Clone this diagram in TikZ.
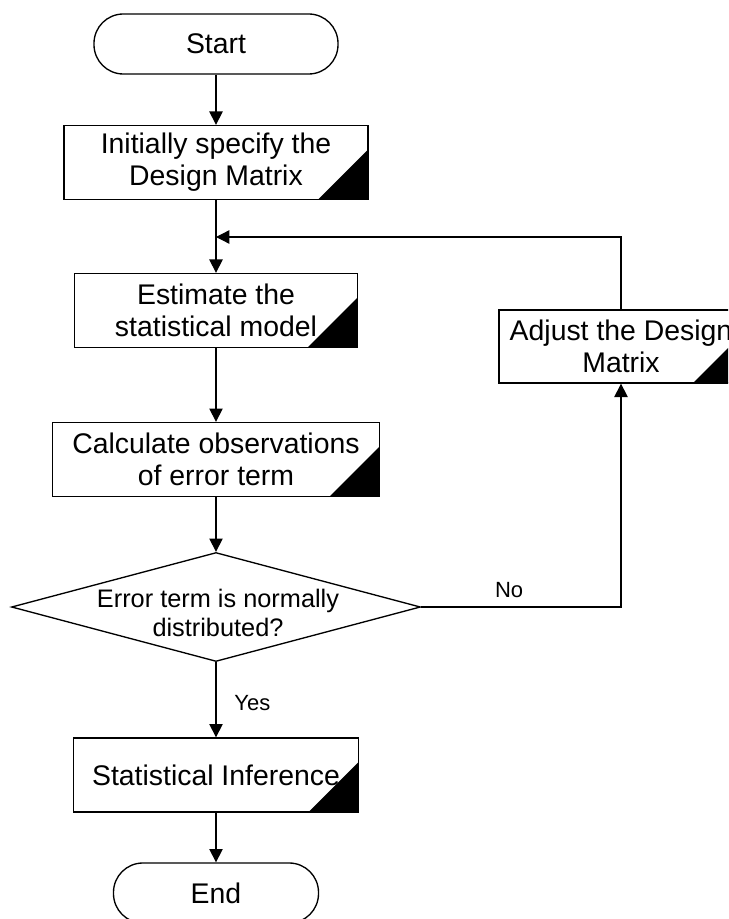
\documentclass[tikz,border=0pt]{standalone}
\usepackage{fontspec}
\setmainfont{Liberation Sans}
\usetikzlibrary{shapes.geometric, arrows.meta}
\begin{document}
\begin{tikzpicture}[x=0.75pt, y=-0.75pt,
  every node/.style={font=\fontsize{21.3}{24}\selectfont},
  line/.style={line width=1pt, black},
  arr/.style={line, -{Triangle[length=10pt,width=10pt]}},
  term/.style={draw, line width=1pt, rounded corners=22pt, minimum height=45pt, inner sep=0pt},
  proc/.style={draw, line width=1pt, minimum height=55.5pt, align=center, inner sep=0pt,
    path picture={\fill[black] (path picture bounding box.south east) -- ++(-37.5pt,0pt) -- ++(37.5pt,37.5pt) -- cycle;}},
  decision/.style={diamond, draw, line width=1pt, inner sep=0pt, minimum width=306.75pt, minimum height=81.75pt},
  dectext/.style={font=\fontsize{19}{22}\selectfont, align=center},
  lbl/.style={font=\fontsize{16.5}{19}\selectfont}
]
\useasboundingbox (0,0) rectangle (728,919);
\clip (0,0) rectangle (728,919);
\fill[white] (0,0) rectangle (728,919);

\node[term, minimum width=183pt] (start) at (216,44) {Start};
\node[proc, minimum width=228pt] (b1) at (216,162.5) {Initially specify the\\Design Matrix};
\node[proc, minimum width=212.25pt] (b2) at (216,310.5) {Estimate the\\statistical model};
\node[proc, minimum width=245.25pt] (b3) at (216,459.5) {Calculate observations\\of error term};
\node[decision] (dec) at (216,607) {};
\node[dectext] (dect) at (218,613) {Error term is normally\\distributed?};
\node[proc, minimum width=213.75pt] (b4) at (216,775) {Statistical Inference};
\node[term, minimum width=153.75pt] (end) at (216,893) {End};
\node[proc, minimum width=183pt, minimum height=54.75pt] (adj) at (621,346.5) {Adjust the Design\\Matrix};
\coordinate (fb) at (216,237);

\draw[arr] (start) -- (b1);
\draw[line] (b1.south) -- (fb);
\draw[arr] (fb) -- (b2.north);
\draw[arr] (b2) -- (b3);
\draw[arr] (b3) -- (dec.north);
\draw[arr] (dec.south) -- node[lbl, pos=0.55, right=10pt] {Yes} (b4.north);
\draw[arr] (b4) -- (end);
\draw[arr] (dec.east) -| node[lbl, pos=0.22, above=3pt] {No} (adj.south);
\draw[arr] (adj.north) |- (fb);
\end{tikzpicture}
\end{document}
